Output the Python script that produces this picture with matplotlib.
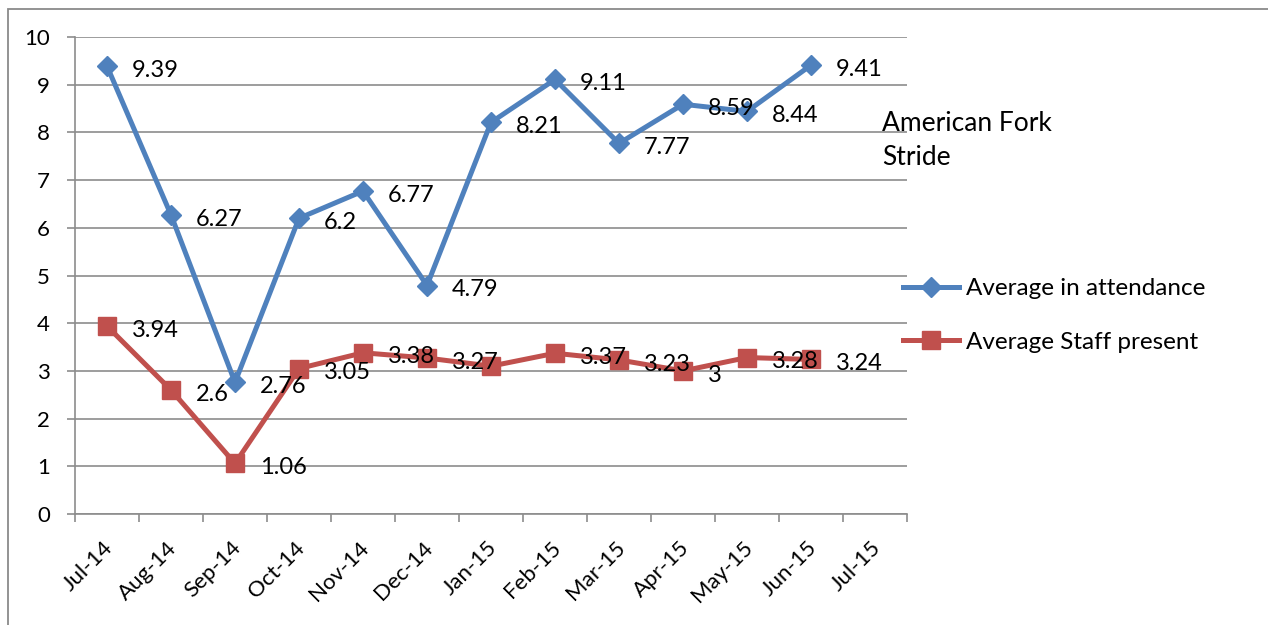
import matplotlib
matplotlib.use("Agg")
import matplotlib.pyplot as plt
import numpy as np
from matplotlib.transforms import ScaledTranslation
from matplotlib.patches import Rectangle

# Category axis (monthly), values per series
months = ["Jul-14", "Aug-14", "Sep-14", "Oct-14", "Nov-14", "Dec-14", "Jan-15",
          "Feb-15", "Mar-15", "Apr-15", "May-15", "Jun-15", "Jul-15"]
attendance = [9.39, 6.27, 2.76, 6.2, 6.77, 4.79, 8.21, 9.11, 7.77, 8.59, 8.44, 9.41]
staff = [3.94, 2.6, 1.06, 3.05, 3.38, 3.27, 3.1, 3.37, 3.23, 3.0, 3.28, 3.24]
staff_unlabelled = ["Jan-15"]
y_ticks = list(range(0, 11))

BLUE = "#4F81BD"
RED = "#C0504D"
GRID = "#8C8C8C"
FONT = ["Lato", "DejaVu Sans"]

plt.rcParams["font.family"] = FONT

W, H = 1268, 625
fig = plt.figure(figsize=(W / 100, H / 100), dpi=100)
fig.patch.set_facecolor("white")

# chart frame (open at right/bottom edges)
fig.patches.append(Rectangle((8 / W, -0.1), 1.2, 1 - 9 / H + 0.1, transform=fig.transFigure,
                             fill=False, edgecolor="#8A8A8A", linewidth=1.3))

left, right, top, bottom = 75, 907, 37, 514
ax = fig.add_axes([left / W, 1 - bottom / H, (right - left) / W, (bottom - top) / H])

n = len(months)
xpos = np.arange(len(attendance)) + 0.5

ax.plot(xpos, attendance, color=BLUE, linewidth=3.6, marker="D", markersize=10.5,
        markerfacecolor=BLUE, markeredgecolor=BLUE, label="Average in attendance", zorder=3)
ax.plot(xpos, staff, color=RED, linewidth=3.6, marker="s", markersize=13,
        markerfacecolor=RED, markeredgecolor=RED, label="Average Staff present", zorder=4)

# data labels to the right of each point
for x, v in zip(xpos, attendance):
    ax.annotate(f"{v:g}", (x, v), xytext=(18, -3), textcoords="offset points",
                ha="left", va="center", fontsize=17, color="black", zorder=6)
for m, x, v in zip(months, xpos, staff):
    if m in staff_unlabelled:
        continue
    ax.annotate(f"{v:g}", (x, v), xytext=(18, -3), textcoords="offset points",
                ha="left", va="center", fontsize=17, color="black", zorder=6)

ax.set_xlim(0, n)
ax.set_ylim(0, 10)

# y axis with gridlines
ax.set_yticks(y_ticks)
ax.set_yticklabels([str(t) for t in y_ticks])
ax.yaxis.grid(True, color=GRID, linewidth=1.2)
ax.set_axisbelow(True)
ax.tick_params(axis="y", direction="out", length=6, width=1.2, color=GRID,
               labelsize=16, pad=12)

# x axis: tick marks between categories, labels at category centres
ax.set_xticks(np.arange(0, n + 1), minor=True)
ax.set_xticks(np.arange(n) + 0.5)
ax.set_xticklabels(months, rotation=45, ha="right", va="top", fontsize=16)
ax.tick_params(axis="x", which="major", length=0, pad=17)
ax.tick_params(axis="x", which="minor", direction="out", length=6, width=1.2, color=GRID)
shift = ScaledTranslation(10 / 100, 0, fig.dpi_scale_trans)
for lbl in ax.get_xticklabels():
    lbl.set_transform(lbl.get_transform() + shift)

for side in ("top", "right"):
    ax.spines[side].set_visible(False)
for side in ("left", "bottom"):
    ax.spines[side].set_color(GRID)
    ax.spines[side].set_linewidth(1.2)

fig.text(882 / W, 1 - 111 / H, "American Fork\nStride", fontsize=19, ha="left", va="top",
         linespacing=1.45)

fig.legend(loc="upper left", bbox_to_anchor=(903 / W, 1 - 278 / H), frameon=False,
           fontsize=17.5, handlelength=2.3, handletextpad=0.3, labelspacing=1.35,
           borderaxespad=0, borderpad=0)

fig.savefig("out.png", dpi=100)
